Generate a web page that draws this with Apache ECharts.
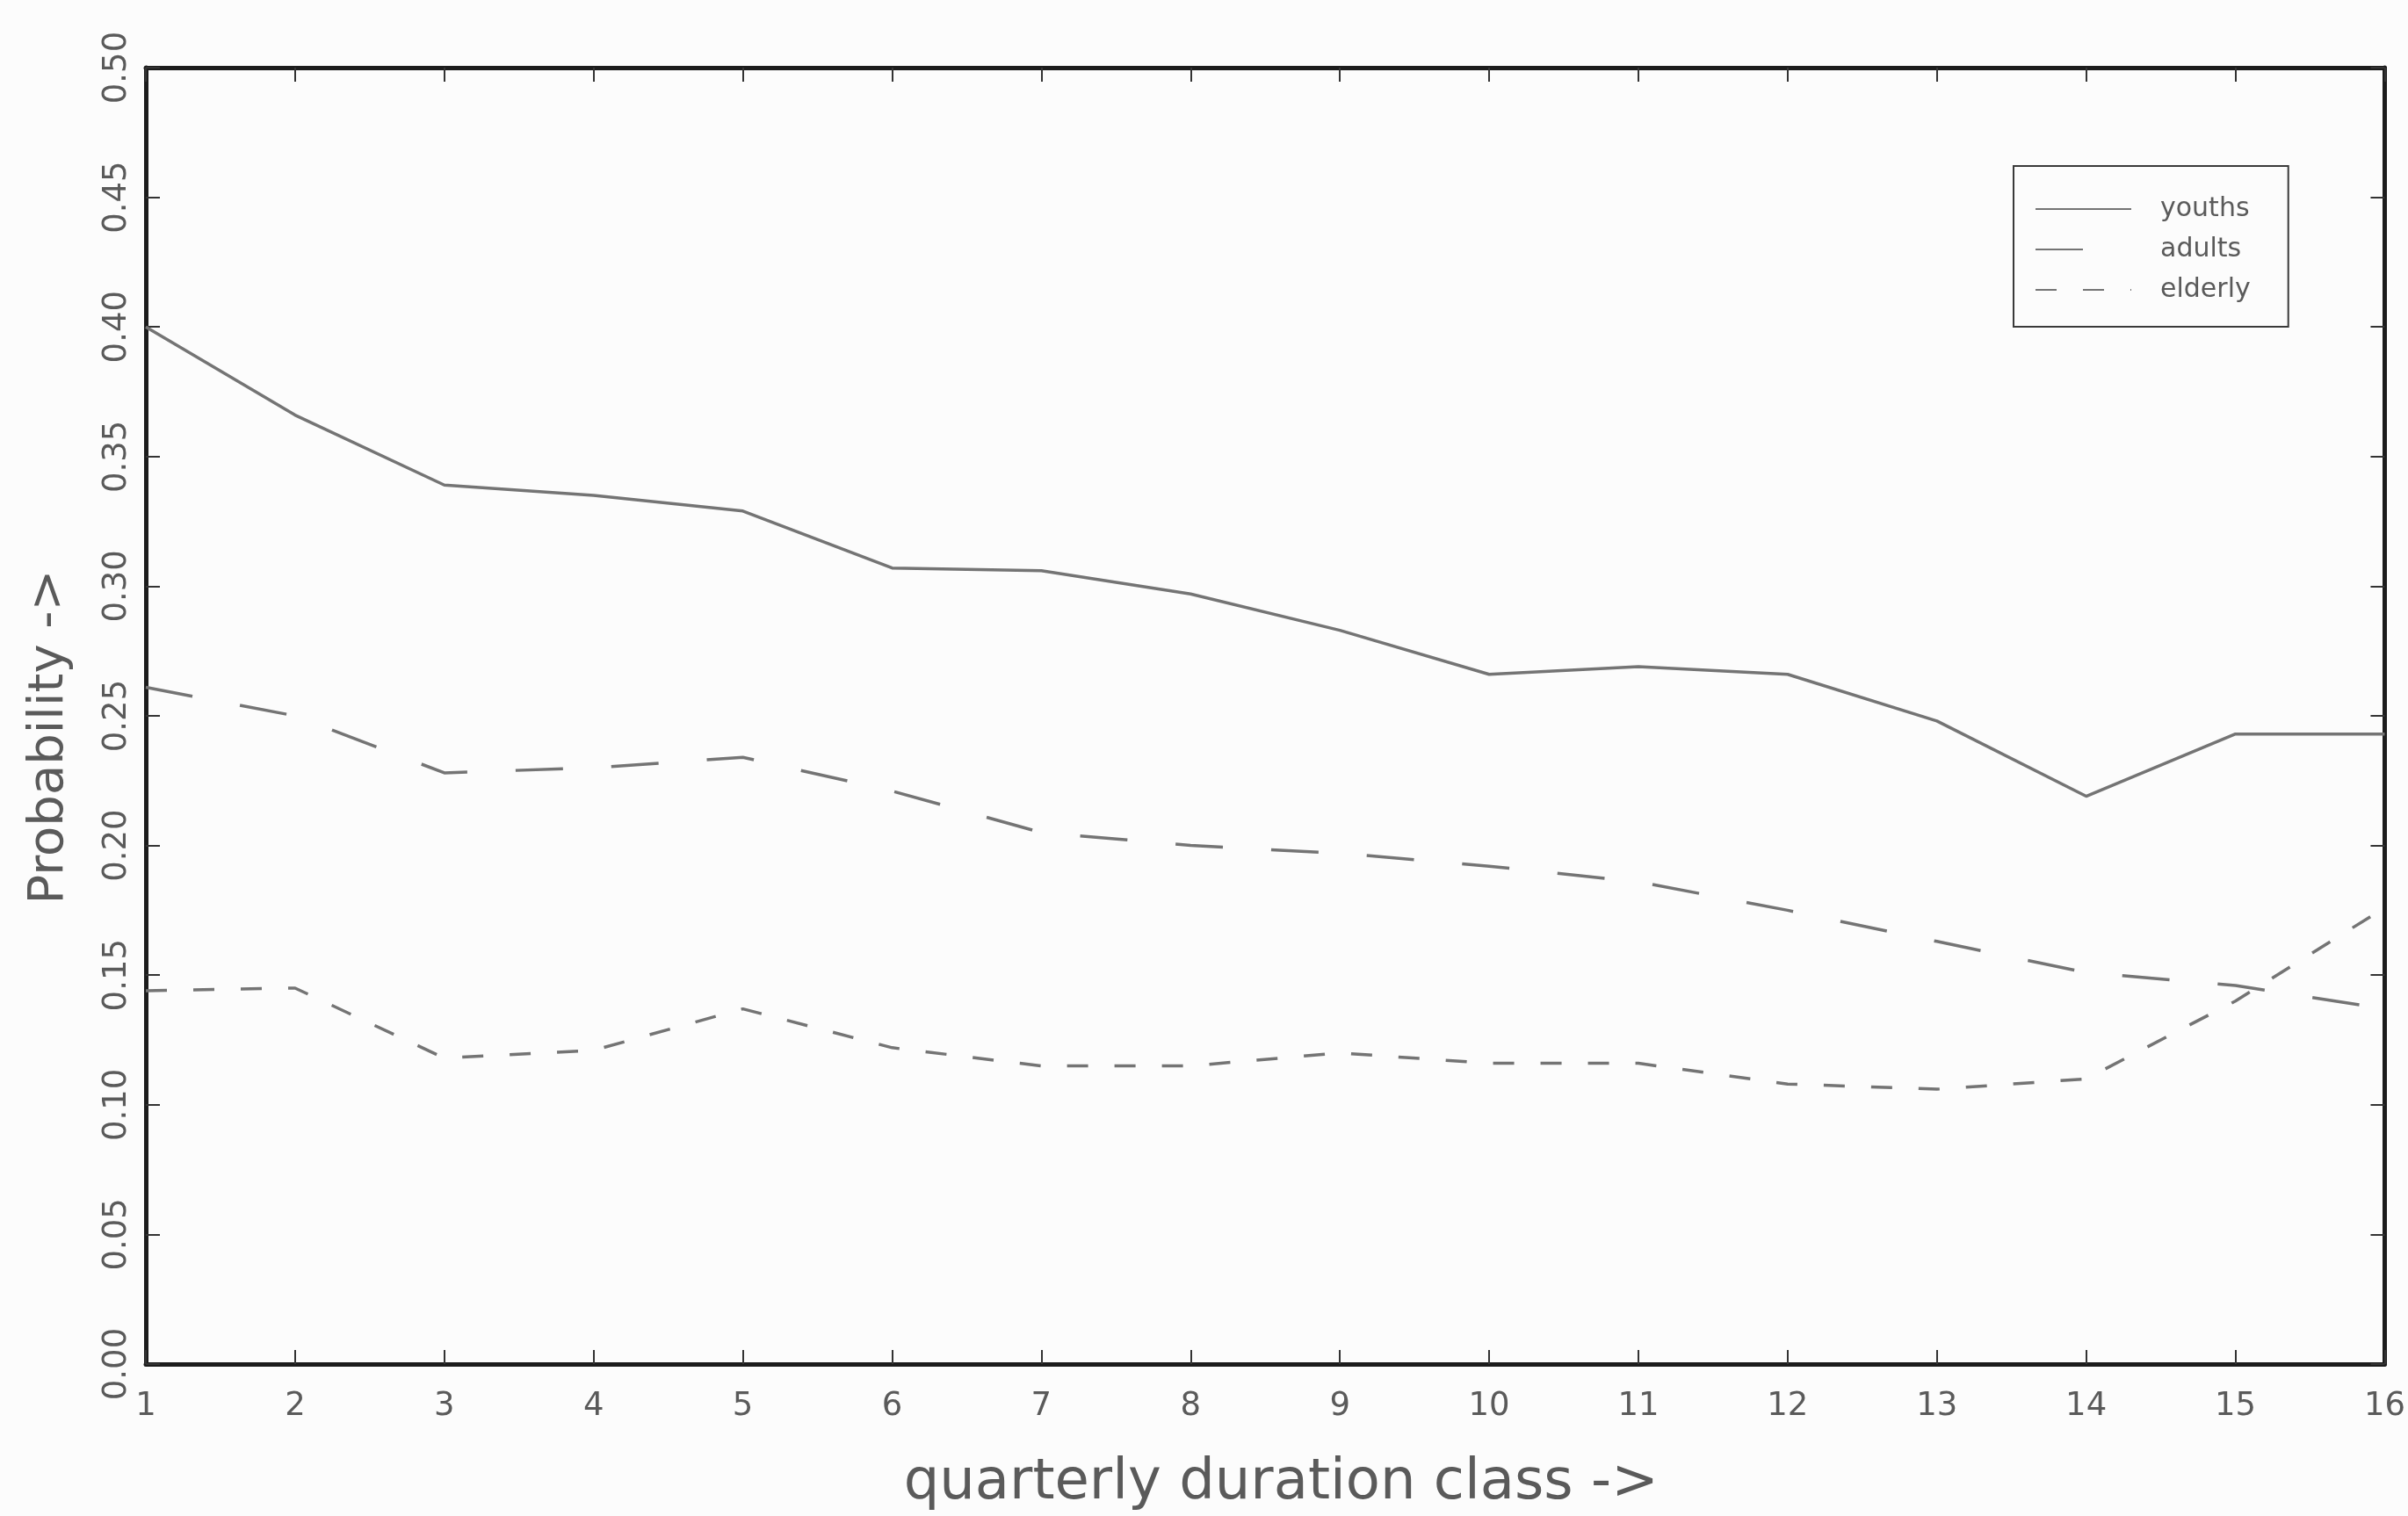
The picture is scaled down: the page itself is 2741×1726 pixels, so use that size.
<!DOCTYPE html>
<html>
<head>
<meta charset="utf-8">
<title>Probability by quarterly duration class</title>
<script src="https://cdn.jsdelivr.net/npm/echarts@6/dist/echarts.min.js"></script>
<style>
  html, body { margin: 0; padding: 0; background: #fcfcfc; }
  #chart { width: 2741px; height: 1726px; }
</style>
</head>
<body>
<div id="chart"></div>
<script>
// Quarterly duration classes (x axis)
const durationClass = [1, 2, 3, 4, 5, 6, 7, 8, 9, 10, 11, 12, 13, 14, 15, 16];

// Estimated probabilities per age group
const youths  = [0.400, 0.366, 0.339, 0.335, 0.329, 0.307, 0.306, 0.297, 0.283, 0.266, 0.269, 0.266, 0.248, 0.219, 0.243, 0.243];
const adults  = [0.261, 0.250, 0.228, 0.230, 0.234, 0.221, 0.205, 0.200, 0.197, 0.192, 0.186, 0.175, 0.163, 0.151, 0.146, 0.137];
const elderly = [0.144, 0.145, 0.118, 0.121, 0.137, 0.122, 0.115, 0.115, 0.120, 0.116, 0.116, 0.108, 0.106, 0.110, 0.140, 0.176];

const seriesNames = ['youths', 'adults', 'elderly'];
const xTitle = 'quarterly duration class ->';
const yTitle = 'Probability ->';

const FONT = '"DejaVu Sans", "Liberation Sans", sans-serif';
const INK = '#1c1c1c';
const LINE = '#747474';
const TEXT = '#5a5a5a';

const pairs = vals => durationClass.map((c, i) => [c, vals[i]]);

// Frame: every axis draws one side of the box, ticks pointing inwards
const frameLine = () => ({ show: true, onZero: false, lineStyle: { color: INK, width: 5 } });
const innerTick = () => ({ show: true, inside: true, length: 16, lineStyle: { color: '#333', width: 2 } });

const chart = echarts.init(document.getElementById('chart'), null, { renderer: 'canvas' });

chart.setOption({
  animation: false,
  backgroundColor: '#fcfcfc',
  grid: { left: 166, right: 22, top: 77, bottom: 161, containLabel: false },
  legend: {
    orient: 'vertical',
    left: 2292,
    top: 189,
    data: seriesNames,
    itemWidth: 109,
    itemHeight: 14,
    itemGap: 16,
    padding: [34, 43, 27, 24],
    borderColor: '#3a3a3a',
    borderWidth: 2,
    itemStyle: { opacity: 0 },
    textStyle: { fontFamily: FONT, fontSize: 30, color: TEXT, padding: [0, 0, 0, 28] }
  },
  xAxis: [
    {
      type: 'value', min: 1, max: 16, interval: 1, position: 'bottom',
      axisLine: frameLine(), axisTick: innerTick(), splitLine: { show: false },
      axisLabel: { fontFamily: FONT, fontSize: 37, color: TEXT, margin: 30, showMinLabel: true, showMaxLabel: true },
      name: xTitle, nameLocation: 'middle', nameGap: 104,
      nameTextStyle: { fontFamily: FONT, fontSize: 64, color: TEXT, padding: [0, 0, 0, 36] }
    },
    {
      type: 'value', min: 1, max: 16, interval: 1, position: 'top',
      axisLine: frameLine(), axisTick: innerTick(), splitLine: { show: false },
      axisLabel: { show: false }
    }
  ],
  yAxis: [
    {
      type: 'value', min: 0, max: 0.5, interval: 0.05, position: 'left',
      axisLine: frameLine(), axisTick: innerTick(), splitLine: { show: false },
      axisLabel: {
        fontFamily: FONT, fontSize: 37, color: TEXT, rotate: 90, margin: 14,
        formatter: v => v.toFixed(2)
      },
      name: yTitle, nameLocation: 'middle', nameGap: 82, nameRotate: 90,
      nameTextStyle: { fontFamily: FONT, fontSize: 56, color: TEXT, padding: [0, 48, 0, 0] }
    },
    {
      type: 'value', min: 0, max: 0.5, interval: 0.05, position: 'right',
      axisLine: frameLine(), axisTick: innerTick(), splitLine: { show: false },
      axisLabel: { show: false }
    }
  ],
  series: [
    {
      name: 'youths', type: 'line', data: pairs(youths), symbol: 'none',
      lineStyle: { color: LINE, width: 3.5, type: 'solid' }, itemStyle: { color: LINE }
    },
    {
      name: 'adults', type: 'line', data: pairs(adults), symbol: 'none',
      lineStyle: { color: LINE, width: 3.5, type: [54, 55] }, itemStyle: { color: LINE }
    },
    {
      name: 'elderly', type: 'line', data: pairs(elderly), symbol: 'none',
      lineStyle: { color: LINE, width: 3.5, type: [24, 30] }, itemStyle: { color: LINE }
    }
  ]
});
</script>
</body>
</html>
